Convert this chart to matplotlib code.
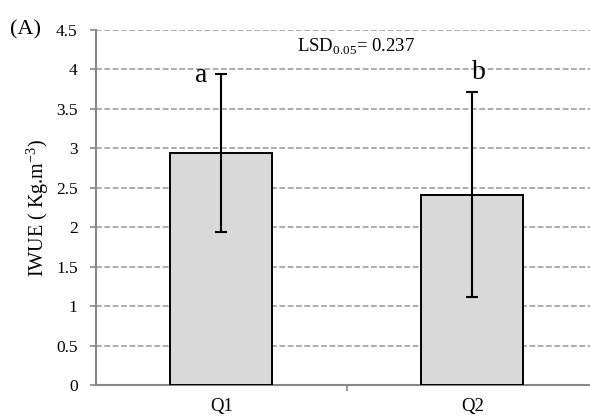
import matplotlib
matplotlib.use("Agg")
import matplotlib.pyplot as plt
import numpy as np

categories = ["Q1", "Q2"]
means = [2.94, 2.41]
errors = [1.0, 1.30]
letters = ["a", "b"]
yticks = [0, 0.5, 1, 1.5, 2, 2.5, 3, 3.5, 4, 4.5]
ytick_labels = ["0", "0.5", "1", "1.5", "2", "2.5", "3", "3.5", "4", "4.5"]

plt.rcParams['font.family'] = ['Liberation Serif', 'DejaVu Serif']
plt.rcParams['mathtext.fontset'] = 'custom'
plt.rcParams['mathtext.rm'] = 'Liberation Serif'

fig = plt.figure(figsize=(5.9, 4.17), dpi=100)
ax = fig.add_axes([0.1622, 0.0767, 0.8378, 0.8513])

x = np.arange(len(categories))
ax.bar(x, means, width=0.405, color="#d9d9d9", edgecolor="black", linewidth=1.4, zorder=3)
ax.errorbar(x, means, yerr=errors, fmt="none", ecolor="black", elinewidth=1.5,
            capsize=4, capthick=1.5, zorder=4)

ax.set_ylim(0, 4.5)
ax.set_xlim(-0.5, 1.469)
ax.set_yticks(yticks)
ax.set_yticklabels(ytick_labels, fontsize=12.5)
ax.set_xticks(x)
ax.set_xticklabels(categories, fontsize=13.5)
ax.set_xticks([0.5], minor=True)
ax.tick_params(axis='x', which='major', length=0, pad=9)
ax.tick_params(axis='x', which='minor', length=4, color="#888888", width=1.2)
ax.tick_params(axis='y', length=4, color="#888888", width=1.2, pad=9)

ax.yaxis.grid(True, linestyle=(0, (3.5, 1.5)), color="#a0a0a0", linewidth=1.2, zorder=0)
ax.set_axisbelow(True)
for s in ["top", "right"]:
    ax.spines[s].set_visible(False)
for s in ["left", "bottom"]:
    ax.spines[s].set_color("#888888")
    ax.spines[s].set_linewidth(1.5)

ax.set_ylabel("IWUE ( Kg.m$^{-3}$)", fontsize=14.5)
ax.yaxis.set_label_coords(-0.09, 0.5)

ax.text(-0.079, 3.84, letters[0], fontsize=20, ha="center", va="baseline", zorder=5)
ax.text(1.027, 3.88, letters[1], fontsize=20, ha="center", va="baseline", zorder=5)
ax.text(0.301, 4.22, "LSD$_{0.05}$= 0.237", fontsize=13.5, ha="left", va="baseline")

fig.text(0.017, 0.918, "(A)", fontsize=16, ha="left", va="baseline")

fig.savefig("out.png", dpi=100)
